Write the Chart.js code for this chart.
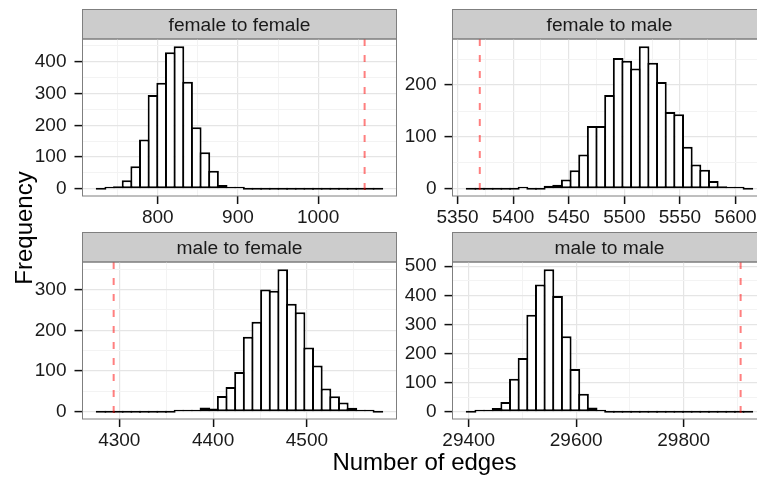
<!DOCTYPE html>
<html>
<head>
<meta charset="utf-8">
<script src="https://cdn.jsdelivr.net/npm/chart.js@4.4.1/dist/chart.umd.min.js"></script>
<style>
  html, body { margin: 0; padding: 0; background: #fff; overflow: hidden; }
  #wrap { position: relative; width: 757px; height: 479px; overflow: hidden; font-family: "Liberation Sans", Arial, sans-serif; }
  #wrap canvas { position: absolute; }
  #xtitle { position: absolute; left: 0; width: 849px; top: 450px; text-align: center; font-size: 24px; line-height: 24px; color: #000; white-space: nowrap; }
  #ytitle { position: absolute; left: -76px; width: 200px; top: 216px; text-align: center; font-size: 24px; line-height: 24px; color: #000; transform: rotate(-90deg); white-space: nowrap; }
</style>
</head>
<body>
<div id="wrap">
  <canvas id="p0" width="400" height="230" style="left:0px;top:0px"></canvas>
  <canvas id="p1" width="400" height="230" style="left:370px;top:0px"></canvas>
  <canvas id="p2" width="400" height="230" style="left:0px;top:223px"></canvas>
  <canvas id="p3" width="400" height="230" style="left:370px;top:223px"></canvas>
  <div id="xtitle">Number of edges</div>
  <div id="ytitle">Frequency</div>
</div>
<script>
// facet labels
var stripLabels = ['female to female', 'female to male', 'male to female', 'male to male'];

// histogram counts per facet (33 bins each)
var ffCounts = [0, 2, 8, 27, 71, 155, 295, 334, 430, 449, 337, 194, 115, 57, 12, 7, 3,
                0, 0, 0, 0, 0, 0, 0, 0, 0, 0, 0, 0, 0, 0, 0, 0];
var fmCounts = [0, 0, 0, 0, 0, 0, 2, 0, 0, 6, 8, 18, 36, 66, 121, 121, 181, 252, 247, 232,
                275, 243, 206, 148, 144, 81, 47, 37, 15, 5, 3, 1, 0];
var mfCounts = [0, 0, 0, 0, 0, 0, 0, 0, 0, 1, 3, 1, 11, 8, 39, 61, 98, 184, 221, 300,
                297, 350, 265, 244, 158, 114, 57, 38, 23, 10, 2, 1, 0];
var mmCounts = [0, 1, 3, 13, 34, 114, 185, 333, 437, 490, 398, 260, 147, 62, 15, 7,
                0, 0, 0, 0, 0, 0, 0, 0, 0, 0, 0, 0, 0, 0, 0, 0, 0];

// bins: left edge of the first bin and bin width
var binStarts = [723.9, 5358.3, 4276, 29396.3];
var binWidths = [10.79, 7.78, 9.22, 16.1];

// observed number of edges (dashed line)
var observedEdges = [1058, 5370, 4294, 29906];

// tick labels
var ffXTicks = [800, 900, 1000];
var fmXTicks = [5350, 5400, 5450, 5500, 5550, 5600];
var mfXTicks = [4300, 4400, 4500];
var mmXTicks = [29400, 29600, 29800];
var ffYTicks = [0, 100, 200, 300, 400];
var fmYTicks = [0, 100, 200];
var mfYTicks = [0, 100, 200, 300];
var mmYTicks = [0, 100, 200, 300, 400, 500];

var FONT = '"Liberation Sans", Arial, sans-serif';
var LINE = 2;

// major ticks plus ggplot-style minor breaks half way between
function withMinor(major, lo, hi) {
    var step = major[1] - major[0];
    var out = [];
    for (var v = major[0] - 2 * step; v <= major[major.length - 1] + 2 * step; v += step / 2) {
        if (v >= lo && v <= hi) out.push(v);
    }
    return out;
}

var facetPlugin = {
    id: 'facet',
    beforeDraw: function (chart, args, opts) {
        var a = chart.chartArea, ctx = chart.ctx;
        var h = 29.5;
        ctx.save();
        ctx.fillStyle = '#cccccc';
        ctx.fillRect(a.left, a.top - h, a.right - a.left, h);
        ctx.strokeStyle = '#7f7f7f';
        ctx.lineWidth = 1;
        ctx.strokeRect(a.left, a.top - h, a.right - a.left, h);
        ctx.fillStyle = '#1a1a1a';
        ctx.font = '19.2px ' + FONT;
        ctx.textAlign = 'center';
        ctx.textBaseline = 'alphabetic';
        ctx.fillText(opts.title, (a.left + a.right) / 2, a.top - h + 21.7);
        ctx.restore();
    },
    afterDatasetsDraw: function (chart, args, opts) {
        var a = chart.chartArea, ctx = chart.ctx;
        var x = chart.scales.x.getPixelForValue(opts.observed);
        ctx.save();
        ctx.strokeStyle = 'rgba(255, 0, 0, 0.5)';
        ctx.lineWidth = 2;
        ctx.setLineDash([7, 9]);
        ctx.beginPath();
        ctx.moveTo(x, a.top);
        ctx.lineTo(x, a.bottom);
        ctx.stroke();
        ctx.restore();
    },
    afterDraw: function (chart) {
        var a = chart.chartArea, ctx = chart.ctx;
        ctx.save();
        ctx.strokeStyle = '#7f7f7f';
        ctx.lineWidth = 1;
        ctx.strokeRect(a.left, a.top, a.right - a.left, a.bottom - a.top);
        ctx.restore();
    }
};

function makePanel(i, counts, xMajor, yMajor) {
    var pts = counts.map(function (c, k) {
        return { x: binStarts[i] + (k + 0.5) * binWidths[i], y: c };
    });
    var firstEdge = binStarts[i];
    var lastEdge = binStarts[i] + counts.length * binWidths[i];
    var lo = Math.min(firstEdge, observedEdges[i]);
    var hi = Math.max(lastEdge, observedEdges[i]);
    var xpad = (hi - lo) * 0.05;
    var ymax = Math.max.apply(null, counts);

    function axis(major, fit) {
        return {
            type: 'linear',
            offset: false,
            afterBuildTicks: function (s) {
                s.ticks = withMinor(major, s.min, s.max).map(function (v) { return { value: v }; });
            },
            afterFit: fit,
            border: { display: false },
            grid: {
                offset: false,
                color: function (c) { return major.indexOf(c.tick.value) >= 0 ? '#e5e5e5' : '#f3f3f3'; },
                lineWidth: function (c) { return major.indexOf(c.tick.value) >= 0 ? 1.2 : 1; },
                tickColor: function (c) { return major.indexOf(c.tick.value) >= 0 ? '#111' : 'rgba(0,0,0,0)'; },
                tickWidth: 1.5,
                tickLength: 8
            },
            ticks: {
                autoSkip: false,
                maxRotation: 0,
                minRotation: 0,
                color: '#1a1a1a',
                font: { family: FONT, size: 19 },
                callback: function (v) { return major.indexOf(v) >= 0 ? String(v) : ''; }
            }
        };
    }

    var xScale = axis(xMajor, function (s) { s.height = 34; });
    xScale.min = lo - xpad;
    xScale.max = hi + xpad;
    xScale.ticks.padding = 2;
    var yScale = axis(yMajor, function (s) { s.width = 82.5; });
    yScale.min = -0.05 * ymax;
    yScale.max = 1.05 * ymax;
    yScale.ticks.padding = 8;

    new Chart(document.getElementById('p' + i), {
        type: 'bar',
        data: {
            datasets: [{
                data: pts,
                backgroundColor: '#ffffff',
                borderColor: '#000000',
                borderWidth: LINE,
                borderSkipped: false,
                minBarLength: LINE,
                inflateAmount: 0,
                barPercentage: 1.23,
                categoryPercentage: 1
            }]
        },
        options: {
            responsive: false,
            maintainAspectRatio: false,
            animation: false,
            events: [],
            devicePixelRatio: 1,
            layout: { padding: { left: 0, top: 39, right: 3.5, bottom: 0 } },
            scales: { x: xScale, y: yScale },
            plugins: {
                legend: { display: false },
                tooltip: { enabled: false },
                facet: { title: stripLabels[i], observed: observedEdges[i] }
            }
        },
        plugins: [facetPlugin]
    });
}

makePanel(0, ffCounts, ffXTicks, ffYTicks);
makePanel(1, fmCounts, fmXTicks, fmYTicks);
makePanel(2, mfCounts, mfXTicks, mfYTicks);
makePanel(3, mmCounts, mmXTicks, mmYTicks);
</script>
</body>
</html>
